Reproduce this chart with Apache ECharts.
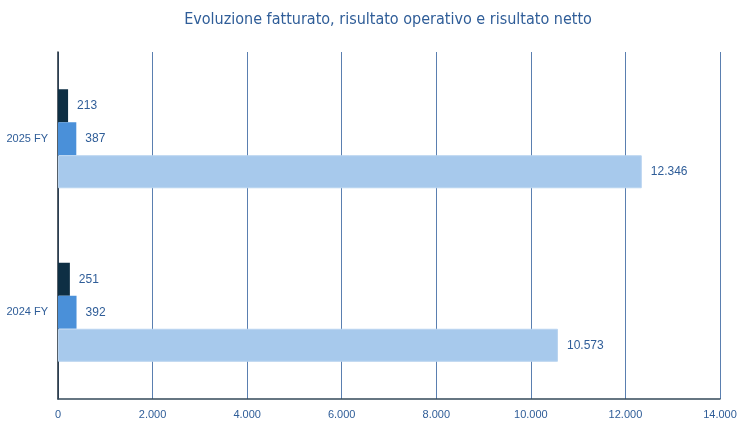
<!DOCTYPE html>
<html><head><meta charset="utf-8">
<script src="https://cdn.jsdelivr.net/npm/echarts@6/dist/echarts.min.js"></script>
<style>html,body{margin:0;padding:0;background:#fff}#c{width:753px;height:426px}</style>
</head><body><div id="c"></div>
<script>
var categories = ['2024 FY', '2025 FY'];
var fatturato = [10573, 12346];
var risultatoOperativo = [392, 387];
var risultatoNetto = [251, 213];
var xTicks = [0, 2000, 4000, 6000, 8000, 10000, 12000, 14000];

function fmt(v) { return String(v).replace(/\B(?=(\d{3})+(?!\d))/g, '.'); }

var chart = echarts.init(document.getElementById('c'), null, {renderer: 'canvas'});
var lbl = {show: true, position: 'right', distance: 9, color: '#2F5D98', fontSize: 12,
  fontFamily: 'Liberation Sans', formatter: function (p) { return fmt(p.value); }};
chart.setOption({
  animation: false,
  title: {text: 'Evoluzione fatturato, risultato operativo e risultato netto', left: 383, textAlign: 'center', top: 7,
    textStyle: {color: '#2F5D98', fontSize: 16, fontWeight: 'normal', fontFamily: '"DejaVu Sans Condensed", "Liberation Sans", sans-serif'}},
  grid: {left: 58, right: 33, top: 52, bottom: 27, containLabel: false},
  xAxis: {type: 'value', min: xTicks[0], max: xTicks[xTicks.length - 1], interval: 2000,
    axisLine: {show: true, lineStyle: {color: '#35495a', width: 1.5}},
    axisTick: {show: false},
    splitLine: {show: true, lineStyle: {color: '#5A7FB0', width: 1}},
    axisLabel: {color: '#2F5D98', fontSize: 11, margin: 10, fontFamily: 'Liberation Sans', formatter: function (v) { return fmt(v); }}},
  yAxis: {type: 'category', data: categories,
    axisLine: {show: true, lineStyle: {color: '#1c2a36', width: 1.5}},
    axisTick: {show: false},
    axisLabel: {color: '#2F5D98', fontSize: 11, margin: 10, fontFamily: 'Liberation Sans'}},
  series: [
    {name: 'Risultato netto', type: 'bar', data: risultatoNetto, barWidth: 33, barGap: '0%',
      itemStyle: {color: '#0E2F44'}, label: lbl},
    {name: 'Risultato operativo', type: 'bar', data: risultatoOperativo, barWidth: 33, barGap: '0%',
      itemStyle: {color: '#4A90D9'}, label: lbl},
    {name: 'Fatturato', type: 'bar', data: fatturato, barWidth: 33, barGap: '0%',
      itemStyle: {color: '#A7C9EC', borderColor: '#B9D4F0', borderWidth: 1}, label: lbl}
  ]
});
</script></body></html>
